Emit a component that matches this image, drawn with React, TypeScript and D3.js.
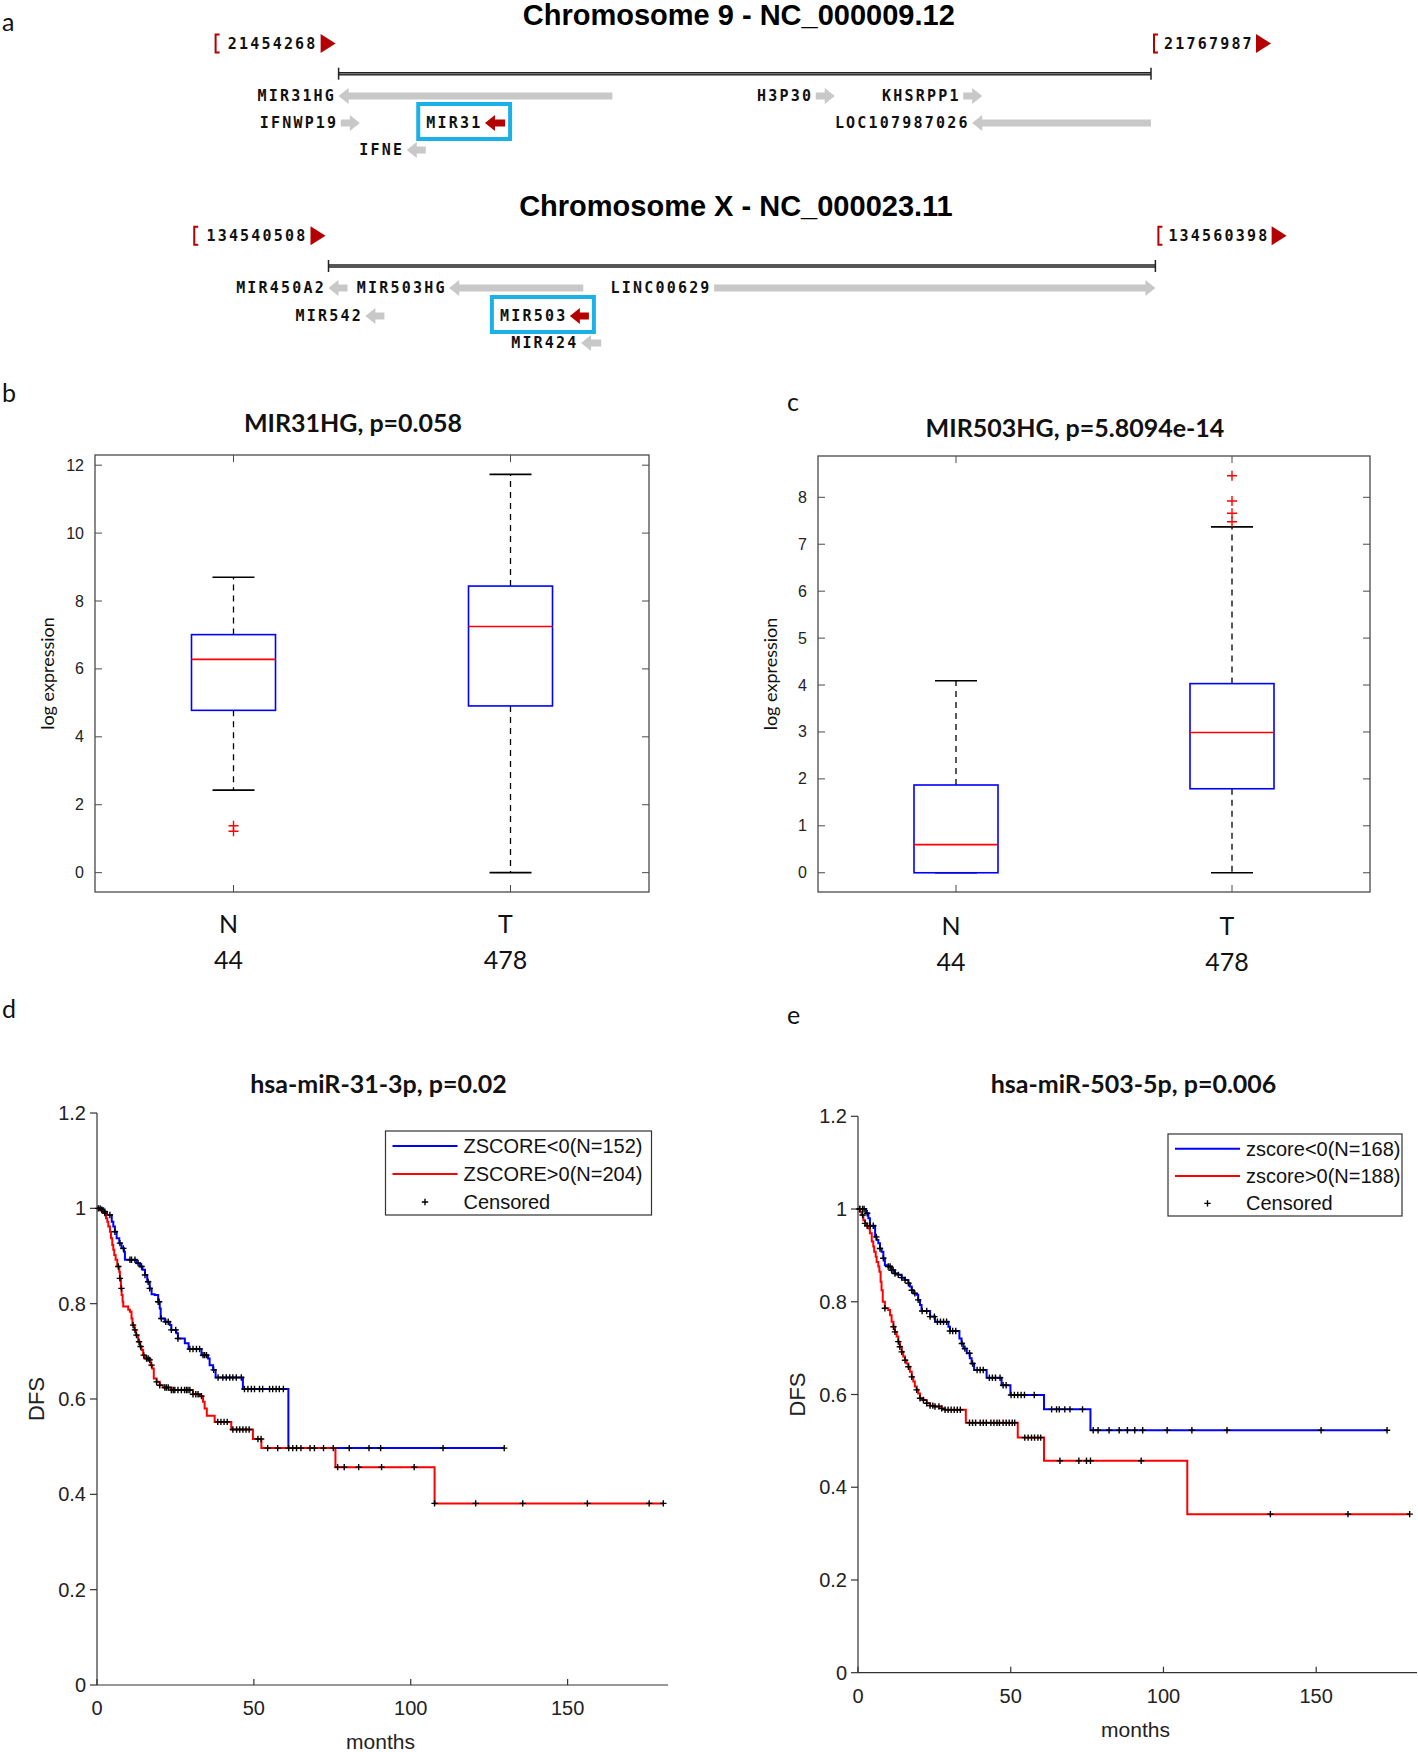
import React from "react";
import * as d3 from "d3";

// ---------- Panel a data ----------
const chr9Title = "Chromosome 9 - NC_000009.12";
const chr9Range = [21454268, 21767987];
const chr9Genes = [
  { name: "MIR31HG", start: 21454268, end: 21559986, strand: "-", row: 0, hl: false },
  { name: "IFNWP19", start: 21455131, end: 21461604, strand: "+", row: 1, hl: false },
  { name: "MIR31", start: 21510796, end: 21518563, strand: "-", row: 1, hl: true },
  { name: "IFNE", start: 21480590, end: 21487494, strand: "-", row: 2, hl: false },
  { name: "H3P30", start: 21638519, end: 21645423, strand: "+", row: 0, hl: false },
  { name: "KHSRPP1", start: 21695477, end: 21702381, strand: "+", row: 0, hl: false },
  { name: "LOC107987026", start: 21698929, end: 21767987, strand: "-", row: 1, hl: false },
];
const chrXTitle = "Chromosome X - NC_000023.11";
const chrXRange = [134540508, 134560398];
const chrXGenes = [
  { name: "MIR450A2", start: 134540508, end: 134540965, strand: "-", row: 0, hl: false },
  { name: "MIR503HG", start: 134543411, end: 134546637, strand: "-", row: 0, hl: false },
  { name: "LINC00629", start: 134549783, end: 134560398, strand: "+", row: 0, hl: false },
  { name: "MIR542", start: 134541395, end: 134541852, strand: "-", row: 1, hl: false },
  { name: "MIR503", start: 134546314, end: 134546771, strand: "-", row: 1, hl: true },
  { name: "MIR424", start: 134546583, end: 134547067, strand: "-", row: 2, hl: false },
];

// ---------- Panels b, c data ----------
const boxCategories = ["N", "T"];
const boxCounts = [44, 478];
const mir31hgTitle = "MIR31HG, p=0.058";
const mir31hgStats = [
  { lw: 2.43, q1: 4.78, med: 6.28, q3: 7.01, uw: 8.7, out: [1.22, 1.38] },
  { lw: 0, q1: 4.91, med: 7.25, q3: 8.44, uw: 11.73, out: [] as number[] },
];
const mir31hgTicks = [0, 2, 4, 6, 8, 10, 12];
const mir503hgTitle = "MIR503HG, p=5.8094e-14";
const mir503hgStats = [
  { lw: 0, q1: 0, med: 0.6, q3: 1.87, uw: 4.09, out: [] as number[] },
  { lw: 0, q1: 1.79, med: 2.99, q3: 4.03, uw: 7.37, out: [7.48, 7.66, 7.92, 8.46] },
];
const mir503hgTicks = [0, 1, 2, 3, 4, 5, 6, 7, 8];

// ---------- Panels d, e data ----------
const kmYTicks = [0, 0.2, 0.4, 0.6, 0.8, 1, 1.2];
const kmXTicks = [0, 50, 100, 150];

const dTitle = "hsa-miR-31-3p, p=0.02";
const dLegend = ["ZSCORE<0(N=152)", "ZSCORE>0(N=204)", "Censored"];
const dLowSteps: [number, number][] = [
  [2.0, 0.993], [3.1, 0.986], [4.7, 0.972], [5.2, 0.962], [5.7, 0.951], [6.25, 0.937], [7.1, 0.927],
  [7.8, 0.916], [8.6, 0.909], [8.9, 0.892], [12.6, 0.885], [13.7, 0.878], [14.5, 0.871], [15.3, 0.86],
  [16.0, 0.846], [16.8, 0.832], [17.4, 0.82], [18.4, 0.818], [19.5, 0.804], [20.0, 0.79], [20.3, 0.769],
  [21.6, 0.762], [23.2, 0.755], [23.7, 0.745], [25.3, 0.738], [25.8, 0.727], [28.0, 0.717], [29.2, 0.705],
  [33.3, 0.692], [35.4, 0.685], [35.9, 0.671], [37.0, 0.661], [37.8, 0.645], [46.5, 0.621], [61.0, 0.497],
];
const dLowEnd = 129.8;
const dLowCensored = [
  1.0, 2.5, 4.1, 5.7, 7.3, 8.4, 10.5, 11.0, 12.1, 13.1, 14.2, 15.3, 16.3, 16.8, 19.5, 19.8, 20.5, 21.9,
  22.7, 23.7, 25.1, 25.8, 29.6, 30.6, 31.7, 32.7, 33.8, 34.3, 34.9, 37.2, 38.6, 40.1, 41.2, 42.3, 43.3,
  44.4, 46.0, 47.0, 48.1, 49.2, 50.2, 51.8, 52.8, 55.0, 56.0, 57.1, 58.1, 59.4, 61.1, 62.4, 63.6, 65.0,
  67.9, 72.2, 80.4, 86.7, 90.4, 110.3, 129.8,
];
const dHighSteps: [number, number][] = [
  [0.95, 0.997], [2.0, 0.99], [2.86, 0.979], [3.28, 0.972], [3.6, 0.962], [4.13, 0.951], [4.45, 0.937],
  [4.87, 0.923], [5.19, 0.913], [5.5, 0.902], [5.93, 0.892], [6.46, 0.878], [7.1, 0.867], [7.3, 0.853],
  [7.63, 0.832], [7.84, 0.818], [8.16, 0.804], [8.37, 0.794], [9.96, 0.787], [10.5, 0.783], [11.0, 0.769],
  [11.3, 0.755], [11.9, 0.745], [12.4, 0.734], [13.1, 0.72], [13.7, 0.71], [14.2, 0.703], [14.7, 0.692],
  [15.25, 0.685], [16.6, 0.682], [17.1, 0.671], [17.6, 0.664], [18.1, 0.643], [19.0, 0.636], [20.0, 0.629],
  [21.1, 0.624], [23.7, 0.619], [30.6, 0.61], [32.7, 0.606], [33.8, 0.594], [34.3, 0.58], [35.0, 0.565],
  [37.5, 0.552], [42.8, 0.536], [49.7, 0.516], [52.4, 0.497], [76.0, 0.457], [107.6, 0.381],
];
const dHighEnd = 180.5;
const dHighCensored = [
  0.4, 1.5, 2.5, 6.8, 7.3, 7.8, 11.5, 12.1, 12.6, 13.4, 13.9, 14.9, 15.8, 16.3, 16.8, 17.4, 19.0, 20.0,
  21.6, 22.1, 22.7, 23.7, 24.3, 24.8, 25.8, 26.9, 27.9, 28.5, 29.0, 29.6, 30.6, 31.5, 32.2, 33.3, 38.5,
  39.5, 40.5, 41.5, 43.3, 44.5, 45.5, 46.5, 47.5, 48.5, 51.3, 52.3, 54.4, 57.6, 69.3, 75.3, 76.7, 78.8,
  83.4, 90.7, 101.1, 107.6, 120.7, 135.7, 156.3, 176.0, 180.5,
];

const eTitle = "hsa-miR-503-5p, p=0.006";
const eLegend = ["zscore<0(N=168)", "zscore>0(N=188)", "Censored"];
const eLowSteps: [number, number][] = [
  [2.6, 0.991], [3.4, 0.98], [3.9, 0.964], [5.6, 0.94], [6.1, 0.933], [6.65, 0.926], [7.2, 0.915],
  [7.7, 0.908], [8.3, 0.894], [8.8, 0.879], [9.9, 0.876], [11.0, 0.868], [12.1, 0.861], [13.2, 0.858],
  [14.3, 0.852], [15.4, 0.847], [16.5, 0.84], [17.0, 0.833], [17.6, 0.825], [18.1, 0.818], [19.2, 0.815],
  [19.7, 0.804], [20.3, 0.793], [20.8, 0.78], [23.6, 0.768], [25.2, 0.757], [29.6, 0.746], [30.1, 0.737],
  [33.2, 0.721], [33.9, 0.71], [34.5, 0.699], [35.6, 0.689], [36.6, 0.678], [37.2, 0.667], [38.0, 0.653],
  [42.1, 0.636], [47.0, 0.62], [49.9, 0.599], [60.9, 0.568], [76.1, 0.523],
];
const eLowEnd = 173.2;
const eLowCensored = [
  0.5, 1.5, 2.0, 3.0, 4.0, 5.0, 6.0, 7.2, 8.3, 9.9, 10.5, 11.0, 11.5, 12.1, 13.2, 14.3, 15.4, 16.5,
  17.6, 18.6, 19.7, 21.0, 22.5, 23.6, 25.0, 26.0, 27.0, 28.0, 29.0, 30.1, 31.0, 32.0, 34.0, 35.0, 36.5,
  37.5, 39.0, 40.0, 41.0, 43.0, 44.0, 45.0, 46.5, 47.5, 48.5, 50.1, 51.2, 52.3, 53.4, 54.5, 57.7, 63.4,
  65.0, 65.9, 67.7, 69.4, 73.5, 77.0, 78.6, 82.2, 85.5, 88.2, 90.6, 93.2, 101.2, 109.3, 120.8, 151.6, 173.2,
];
const eHighSteps: [number, number][] = [
  [0.65, 0.994], [1.2, 0.987], [1.75, 0.976], [2.3, 0.969], [2.8, 0.964], [3.4, 0.958], [3.9, 0.948],
  [4.5, 0.93], [5.0, 0.919], [5.3, 0.908], [5.8, 0.897], [6.1, 0.886], [6.65, 0.876], [7.0, 0.865],
  [7.4, 0.843], [7.7, 0.825], [8.1, 0.8], [8.8, 0.786], [9.9, 0.782], [10.5, 0.771], [11.0, 0.757],
  [11.6, 0.746], [12.1, 0.735], [12.65, 0.725], [13.2, 0.714], [13.7, 0.703], [14.3, 0.692], [14.8, 0.682],
  [15.4, 0.674], [15.9, 0.667], [16.5, 0.66], [17.0, 0.649], [17.6, 0.638], [18.1, 0.628], [18.6, 0.617],
  [19.2, 0.61], [19.7, 0.602], [20.3, 0.592], [21.4, 0.588], [22.5, 0.581], [23.6, 0.576], [25.2, 0.574],
  [27.4, 0.57], [28.5, 0.567], [35.3, 0.539], [52.3, 0.507], [60.9, 0.457], [107.8, 0.342],
];
const eHighEnd = 180.6;
const eHighCensored = [
  0.6, 1.5, 2.3, 3.0, 8.8, 11.6, 12.1, 13.2, 13.7, 14.3, 15.4, 16.5, 17.6, 19.2, 20.3, 21.4, 22.5, 23.6,
  24.5, 25.2, 26.5, 27.4, 28.5, 29.5, 30.5, 31.5, 32.5, 33.5, 36.5, 37.5, 38.5, 40.0, 41.0, 42.0, 43.5,
  44.5, 45.5, 46.3, 47.5, 48.5, 49.5, 50.5, 51.3, 54.6, 55.7, 56.8, 57.8, 58.9, 59.8, 66.1, 72.3, 74.8,
  76.1, 92.7, 135.0, 160.4, 180.6,
];

// ---------- styling ----------
const CAL = "Lato, 'Open Sans', sans-serif";
const ARIAL = "'Liberation Sans', Arial, sans-serif";
const MONO = "'DejaVu Sans Mono', monospace";
const GRAY_ARROW = "#c8c8c8";
const DARK_RED = "#b40000";
const HL_BLUE = "#1bb1e7";

function arrowPath(a: number, b: number, y: number, strand: string) {
  const hl = 10, hh = 8, sh = 3.5;
  if (strand === "-") {
    return `M${a},${y} L${a + hl},${y - hh} L${a + hl},${y - sh} L${b},${y - sh} L${b},${y + sh} L${a + hl},${y + sh} L${a + hl},${y + hh} Z`;
  }
  return `M${b},${y} L${b - hl},${y - hh} L${b - hl},${y - sh} L${a},${y - sh} L${a},${y + sh} L${b - hl},${y + sh} L${b - hl},${y + hh} Z`;
}

function Bracket({ x, y }: { x: number; y: number }) {
  return (
    <path d={`M${x + 4},${y - 9} L${x},${y - 9} L${x},${y + 9} L${x + 4},${y + 9}`} fill="none" stroke={DARK_RED} strokeWidth={2} />
  );
}

function Flag({ x, y }: { x: number; y: number }) {
  return <path d={`M${x},${y - 9.5} L${x + 15},${y} L${x},${y + 9.5} Z`} fill={DARK_RED} />;
}

const CHAR_W = 11.25;

function ChromTrack(props: {
  title: string; range: number[]; genes: typeof chr9Genes; x0: number; x1: number;
  yTitle: number; yCoord: number; yAxis: number; rows: number[];
}) {
  const { title, range, genes, x0, x1, yTitle, yCoord, yAxis, rows } = props;
  const sx = d3.scaleLinear().domain(range).range([x0, x1]);
  const leftNum = String(range[0]);
  const rightNum = String(range[1]);
  const lFlagX = sx(range[0]) - 18;
  const lNumEnd = lFlagX - 3;
  const lBr = lNumEnd - leftNum.length * CHAR_W - 12;
  const rBr = sx(range[1]) + 3;
  const rNumStart = rBr + 10;
  const rFlagX = rNumStart + rightNum.length * CHAR_W + 2;
  return (
    <g>
      <text x={(x0 + x1) / 2 - 6} y={yTitle} textAnchor="middle" dominantBaseline="central"
        fontFamily={ARIAL} fontWeight="bold" fontSize={29} fill="#000">{title}</text>
      <Bracket x={lBr} y={yCoord} />
      <text x={lNumEnd} y={yCoord} textAnchor="end" dominantBaseline="central" fontFamily={MONO}
        fontWeight="bold" fontSize={15} letterSpacing={2.2} fill="#111">{leftNum}</text>
      <Flag x={lFlagX} y={yCoord} />
      <Bracket x={rBr} y={yCoord} />
      <text x={rNumStart} y={yCoord} textAnchor="start" dominantBaseline="central" fontFamily={MONO}
        fontWeight="bold" fontSize={15} letterSpacing={2.2} fill="#111">{rightNum}</text>
      <Flag x={rFlagX} y={yCoord} />
      <line x1={sx(range[0])} x2={sx(range[1])} y1={yAxis} y2={yAxis} stroke="#222" strokeWidth={3.5} />
      <line x1={sx(range[0])} x2={sx(range[1])} y1={yAxis} y2={yAxis} stroke="#888" strokeWidth={1} />
      <line x1={sx(range[0])} x2={sx(range[0])} y1={yAxis - 6} y2={yAxis + 6} stroke="#222" strokeWidth={1.5} />
      <line x1={sx(range[1])} x2={sx(range[1])} y1={yAxis - 6} y2={yAxis + 6} stroke="#222" strokeWidth={1.5} />
      {genes.map((g) => {
        const a = sx(g.start);
        const b = Math.max(sx(g.end), a + 19);
        const y = rows[g.row];
        const labEnd = a - 4.5;
        const labW = g.name.length * CHAR_W;
        return (
          <g key={g.name}>
            {g.hl && (
              <rect x={labEnd - labW - 6} y={y - 19} width={b + 5 - (labEnd - labW - 6)} height={35}
                fill="none" stroke={HL_BLUE} strokeWidth={4} />
            )}
            <path d={arrowPath(a, b, y, g.strand)} fill={g.hl ? DARK_RED : GRAY_ARROW} />
            <text x={labEnd + 2} y={y} textAnchor="end" dominantBaseline="central" fontFamily={MONO}
              fontWeight="bold" fontSize={15} letterSpacing={2.2} fill="#111">{g.name}</text>
          </g>
        );
      })}
    </g>
  );
}

type BoxStat = { lw: number; q1: number; med: number; q3: number; uw: number; out: number[] };

function BoxPanel(props: {
  title: string; stats: BoxStat[]; ticks: number[]; yDomain: number[];
  left: number; right: number; top: number; bottom: number; titleY: number; catY: number; countY: number;
}) {
  const { title, stats, ticks, yDomain, left, right, top, bottom, titleY, catY, countY } = props;
  const sx = d3.scaleLinear().domain([0.5, boxCategories.length + 0.5]).range([left, right]);
  const sy = d3.scaleLinear().domain(yDomain).range([bottom, top]);
  const halfBox = 42, halfCap = 21, tl = 7;
  const frame = "#4a4a4a";
  return (
    <g>
      <text x={(left + right) / 2 - 19} y={titleY} textAnchor="middle" dominantBaseline="central"
        fontFamily={CAL} fontWeight="bold" fontSize={25} fill="#111">{title}</text>
      <text transform={`translate(${left - 48},${(top + bottom) / 2}) rotate(-90)`} textAnchor="middle"
        dominantBaseline="central" fontFamily={CAL} fontSize={18} fill="#111">log expression</text>
      <rect x={left} y={top} width={right - left} height={bottom - top} fill="none" stroke={frame} strokeWidth={1.3} />
      {ticks.map((t) => (
        <g key={t}>
          <line x1={left} x2={left + tl} y1={sy(t)} y2={sy(t)} stroke={frame} strokeWidth={1} />
          <line x1={right} x2={right - tl} y1={sy(t)} y2={sy(t)} stroke={frame} strokeWidth={1} />
          <text x={left - 11} y={sy(t)} textAnchor="end" dominantBaseline="central" fontFamily={ARIAL}
            fontSize={16} fill="#222">{t}</text>
        </g>
      ))}
      {boxCategories.map((c, i) => {
        const x = sx(i + 1);
        const s = stats[i];
        return (
          <g key={c}>
            <line x1={x} x2={x} y1={top} y2={top + tl} stroke={frame} strokeWidth={1} />
            <line x1={x} x2={x} y1={bottom} y2={bottom - tl} stroke={frame} strokeWidth={1} />
            <line x1={x} x2={x} y1={sy(s.q3)} y2={sy(s.uw)} stroke="#000" strokeWidth={1.3} strokeDasharray="6,5" />
            <line x1={x} x2={x} y1={sy(s.q1)} y2={sy(s.lw)} stroke="#000" strokeWidth={1.3} strokeDasharray="6,5" />
            <line x1={x - halfCap} x2={x + halfCap} y1={sy(s.uw)} y2={sy(s.uw)} stroke="#000" strokeWidth={1.6} />
            <line x1={x - halfCap} x2={x + halfCap} y1={sy(s.lw)} y2={sy(s.lw)} stroke="#000" strokeWidth={1.6} />
            <rect x={x - halfBox} y={sy(s.q3)} width={halfBox * 2} height={sy(s.q1) - sy(s.q3)} fill="none"
              stroke="#0000ff" strokeWidth={1.6} />
            <line x1={x - halfBox} x2={x + halfBox} y1={sy(s.med)} y2={sy(s.med)} stroke="#ff0000" strokeWidth={1.6} />
            {s.out.map((o, k) => (
              <path key={k} d={`M${x - 5},${sy(o)} L${x + 5},${sy(o)} M${x},${sy(o) - 5} L${x},${sy(o) + 5}`}
                stroke="#ff0000" strokeWidth={1.4} />
            ))}
            <text x={x - 5} y={catY} textAnchor="middle" dominantBaseline="central" fontFamily={CAL}
              fontSize={25} fill="#111">{c}</text>
            <text x={x - 5} y={countY} textAnchor="middle" dominantBaseline="central" fontFamily={CAL}
              fontSize={25} fill="#111">{boxCounts[i]}</text>
          </g>
        );
      })}
    </g>
  );
}

function survAt(steps: [number, number][], t: number) {
  let s = 1;
  for (const [tt, ss] of steps) {
    if (tt <= t) s = ss;
    else break;
  }
  return s;
}

function KMPanel(props: {
  title: string; legend: string[]; low: [number, number][]; lowEnd: number; lowCens: number[];
  high: [number, number][]; highEnd: number; highCens: number[]; xMax: number;
  left: number; right: number; top: number; bottom: number; titleY: number;
  legendBox: number[]; monthsY: number;
}) {
  const p = props;
  const sx = d3.scaleLinear().domain([0, p.xMax]).range([p.left, p.right]);
  const sy = d3.scaleLinear().domain([0, 1.2]).range([p.bottom, p.top]);
  const line = d3.line<[number, number]>().x((d) => sx(d[0])).y((d) => sy(d[1])).curve(d3.curveStepAfter);
  const mk = (steps: [number, number][], end: number): [number, number][] =>
    [[0, 1] as [number, number], ...steps, [end, steps[steps.length - 1][1]] as [number, number]];
  const axisCol = "#333";
  const plus = (x: number, y: number, k: string) => (
    <path key={k} d={`M${x - 3.2},${y} L${x + 3.2},${y} M${x},${y - 3.2} L${x},${y + 3.2}`} stroke="#000" strokeWidth={1.4} />
  );
  const [lx0, ly0, lx1, ly1] = p.legendBox;
  const rowH = (ly1 - ly0) / 3;
  return (
    <g>
      <text x={(p.left + p.right) / 2 - 4} y={p.titleY} textAnchor="middle" dominantBaseline="central"
        fontFamily={CAL} fontWeight="bold" fontSize={25} fill="#111">{p.title}</text>
      <line x1={p.left} x2={p.left} y1={p.top} y2={p.bottom} stroke={axisCol} strokeWidth={1.2} />
      <line x1={p.left} x2={p.right} y1={p.bottom} y2={p.bottom} stroke={axisCol} strokeWidth={1.2} />
      {kmYTicks.map((t) => (
        <g key={t}>
          <line x1={p.left - 7} x2={p.left} y1={sy(t)} y2={sy(t)} stroke={axisCol} strokeWidth={1.2} />
          <text x={p.left - 11} y={sy(t)} textAnchor="end" dominantBaseline="central" fontFamily={ARIAL}
            fontSize={20} fill="#222">{String(+t.toFixed(1))}</text>
        </g>
      ))}
      {kmXTicks.map((t) => (
        <g key={t}>
          <line x1={sx(t)} x2={sx(t)} y1={p.bottom} y2={p.bottom - 6} stroke={axisCol} strokeWidth={1.2} />
          <text x={sx(t)} y={p.bottom + 23} textAnchor="middle" dominantBaseline="central" fontFamily={ARIAL}
            fontSize={20} fill="#222">{t}</text>
        </g>
      ))}
      <text x={(p.left + p.right) / 2 - 2} y={p.monthsY} textAnchor="middle" dominantBaseline="central"
        fontFamily={ARIAL} fontSize={21} fill="#222">months</text>
      <text transform={`translate(${p.left - 61},${(p.top + p.bottom) / 2}) rotate(-90)`} textAnchor="middle"
        dominantBaseline="central" fontFamily={ARIAL} fontSize={22} fill="#222">DFS</text>
      <path d={line(mk(p.low, p.lowEnd)) || ""} fill="none" stroke="#0000ff" strokeWidth={2} />
      <path d={line(mk(p.high, p.highEnd)) || ""} fill="none" stroke="#ff0000" strokeWidth={2} />
      {p.lowCens.map((t, i) => plus(sx(t), sy(survAt(p.low, t)), "l" + i))}
      {p.highCens.map((t, i) => plus(sx(t), sy(survAt(p.high, t)), "h" + i))}
      <rect x={lx0} y={ly0} width={lx1 - lx0} height={ly1 - ly0} fill="#fff" stroke="#333" strokeWidth={1.2} />
      {p.legend.map((lab, i) => {
        const y = ly0 + rowH * (i + 0.5) + 1;
        const lineX0 = lx0 + 7, lineX1 = lx0 + 72;
        return (
          <g key={lab}>
            {i < 2 && <line x1={lineX0} x2={lineX1} y1={y} y2={y} stroke={i === 0 ? "#0000ff" : "#ff0000"} strokeWidth={2} />}
            {i === 2 && plus((lineX0 + lineX1) / 2, y, "leg")}
            <text x={lineX1 + 6} y={y} dominantBaseline="central" fontFamily={ARIAL} fontSize={20} fill="#111">{lab}</text>
          </g>
        );
      })}
    </g>
  );
}

export default function App() {
  const letter = (t: string, x: number, y: number) => (
    <text x={x} y={y} dominantBaseline="central" fontFamily={CAL} fontSize={25} fill="#111">{t}</text>
  );
  return (
    <svg width={1418} height={1752} style={{ position: "absolute", left: 0, top: 0, background: "#fff" }}
      xmlns="http://www.w3.org/2000/svg">
      <rect width={1418} height={1752} fill="#fff" />
      {letter("a", 2, 21)}
      {letter("b", 2, 392)}
      {letter("c", 787, 401)}
      {letter("d", 2, 1008)}
      {letter("e", 787, 1014)}
      <ChromTrack title={chr9Title} range={chr9Range} genes={chr9Genes} x0={338.6} x1={1151}
        yTitle={15} yCoord={43.6} yAxis={73.7} rows={[96, 123, 150]} />
      <ChromTrack title={chrXTitle} range={chrXRange} genes={chrXGenes} x0={328.5} x1={1155.4}
        yTitle={205.6} yCoord={235.8} yAxis={266} rows={[288, 316, 343]} />
      <BoxPanel title={mir31hgTitle} stats={mir31hgStats} ticks={mir31hgTicks} yDomain={[-0.57, 12.3]}
        left={95} right={649} top={455} bottom={892} titleY={422} catY={923} countY={959} />
      <BoxPanel title={mir503hgTitle} stats={mir503hgStats} ticks={mir503hgTicks} yDomain={[-0.41, 8.88]}
        left={818} right={1370} top={456} bottom={892} titleY={427} catY={925} countY={961} />
      <KMPanel title={dTitle} legend={dLegend} low={dLowSteps} lowEnd={dLowEnd} lowCens={dLowCensored}
        high={dHighSteps} highEnd={dHighEnd} highCens={dHighCensored} xMax={182}
        left={97} right={668} top={1113} bottom={1685} titleY={1083}
        legendBox={[385.5, 1131, 651.5, 1215]} monthsY={1741} />
      <KMPanel title={eTitle} legend={eLegend} low={eLowSteps} lowEnd={eLowEnd} lowCens={eLowCensored}
        high={eHighSteps} highEnd={eHighEnd} highCens={eHighCensored} xMax={183}
        left={858} right={1417} top={1116.3} bottom={1672.7} titleY={1083}
        legendBox={[1168, 1134, 1402, 1216]} monthsY={1729} />
    </svg>
  );
}
